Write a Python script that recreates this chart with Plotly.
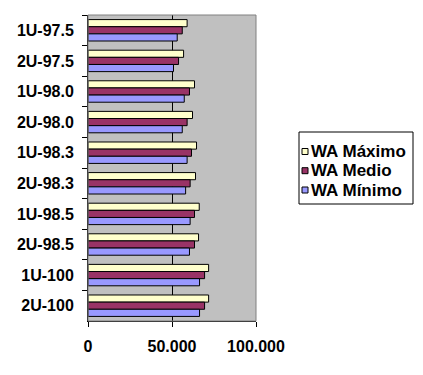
import plotly.graph_objects as go

categories = ["1U-97.5", "2U-97.5", "1U-98.0", "2U-98.0", "1U-98.3",
              "2U-98.3", "1U-98.5", "2U-98.5", "1U-100", "2U-100"]
wa_maximo = [59000, 56900, 63400, 62200, 64600, 64000, 66200, 65800, 71800, 71800]
wa_medio = [56100, 53900, 60400, 59000, 61600, 60800, 63400, 63400, 69400, 69400]
wa_minimo = [53100, 50900, 57300, 56100, 59000, 58100, 60800, 60400, 66400, 66400]
series_names = ["WA Máximo", "WA Medio", "WA Mínimo"]
x_tickvals = [0, 50000, 100000]
x_ticktext = ["0", "50.000", "100.000"]

colors = ["#FFFFCC", "#993366", "#9999FF"]
FAM = "Liberation Sans, Arial, sans-serif"
font = dict(family=FAM, size=16, color="black", weight="bold")

W, H = 423, 375
L, R, T, B = 88, 167, 15, 54
PW, PH = W - L - R, H - T - B


def px(x):
    return (x - L) / PW


def py(y):
    return (H - B - y) / PH


fig = go.Figure()
for name, vals, col in zip(series_names, [wa_maximo, wa_medio, wa_minimo], colors):
    fig.add_trace(go.Bar(
        y=categories, x=vals, name=name, orientation="h",
        marker=dict(color=col, line=dict(color="black", width=1)),
    ))

# manual legend (box, swatches, labels)
shapes = [dict(type="rect", xref="paper", yref="paper", x0=0, x1=1, y0=0, y1=1,
               line=dict(color="#808080", width=1), layer="above"),
          dict(type="rect", xref="paper", yref="paper",
               x0=px(299), x1=px(413), y0=py(132), y1=py(204),
               line=dict(color="black", width=1), fillcolor="white")]
annotations = []
row_centers = [151.5, 170.7, 190.0]
for name, col, cy in zip(series_names, colors, row_centers):
    shapes.append(dict(type="rect", xref="paper", yref="paper",
                       x0=px(302), x1=px(308), y0=py(cy - 3), y1=py(cy + 3),
                       line=dict(color="black", width=1), fillcolor=col))
    annotations.append(dict(xref="paper", yref="paper", x=px(309), y=py(cy),
                            xanchor="left", yanchor="middle", showarrow=False,
                            text=name, font=dict(family=FAM, size=17, color="black", weight="bold")))

fig.update_layout(
    width=W, height=H,
    margin=dict(l=L, r=R, t=T, b=B, autoexpand=False),
    paper_bgcolor="white", plot_bgcolor="#C0C0C0",
    barmode="group", bargap=0.3, bargroupgap=0,
    font=font,
    showlegend=False,
    shapes=shapes,
    annotations=annotations,
)
fig.update_xaxes(
    range=[0, 100000], tickvals=x_tickvals, ticktext=x_ticktext,
    showgrid=True, gridcolor="black", gridwidth=1,
    zeroline=False, showline=True, linecolor="black", linewidth=1,
    ticks="outside", ticklen=5, tickcolor="black", ticklabelstandoff=6,
    tickfont=font, automargin=False,
)
fig.update_yaxes(
    autorange="reversed", type="category",
    showline=True, linecolor="black", linewidth=1,
    ticks="outside", ticklen=5, tickcolor="black", tickson="boundaries",
    showgrid=False, ticklabelstandoff=10, tickfont=font, automargin=False,
)
fig.write_html("out.html", config={"displayModeBar": False},
               post_script="document.body.style.margin='0';document.body.style.overflow='hidden';")
